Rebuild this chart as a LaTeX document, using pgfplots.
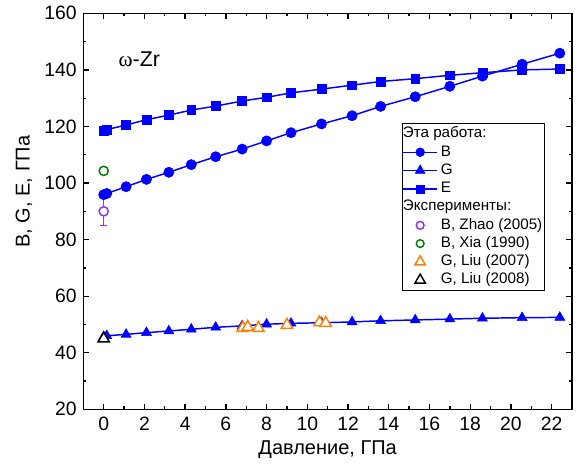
\documentclass[border=0pt]{standalone}
\usepackage{fontspec}
\setmainfont{Liberation Sans}
\newfontfamily\grserif{Liberation Serif}
\usepackage{pgfplots}
\pgfplotsset{compat=1.18}
\definecolor{myblue}{RGB}{0,0,255}
\definecolor{zhao}{RGB}{150,50,240}
\definecolor{xia}{RGB}{0,128,0}
\definecolor{liu}{RGB}{255,128,0}
\begin{document}
\begin{tikzpicture}
\begin{axis}[name=ax,
  width=366.5pt, height=297pt, scale only axis,
  xmin=-1, xmax=23, ymin=20, ymax=160,
  xtick={0,2,...,22}, ytick={20,40,...,160},
  minor x tick num=1, minor y tick num=1,
  tick align=inside, major tick length=4.3pt, minor tick length=2.3pt,
  axis line style={line width=1pt},
  every tick/.style={black, line width=1pt},
  /pgf/number format/assume math mode=true,
  ticklabel style={font=\fontsize{14.5}{17}\selectfont},
  xticklabel style={yshift=-2.5pt},
  yticklabel style={xshift=-1.5pt},
  xlabel={Давление, ГПа}, ylabel={B, G, E, ГПа},
  every axis x label/.style={at={(axis description cs:0.5,0)}, yshift=-30.5pt, anchor=center, font=\fontsize{15}{18}\selectfont},
  every axis y label/.style={at={(axis description cs:0,0.55)}, xshift=-44.5pt, rotate=90, anchor=center, font=\fontsize{15}{18}\selectfont},
  legend image code/.code={\draw[mark repeat=2,mark phase=2,#1] plot coordinates {(0pt,0pt) (12.75pt,0pt) (25.5pt,0pt)};},
  legend cell align=left,
  legend style={at={(0.652,0.723)}, anchor=north west, draw=black, line width=0.75pt,
    inner xsep=0pt, inner ysep=1pt, column sep=0.75pt,
    font=\fontsize{11.4}{13.5}\selectfont,
    nodes={inner xsep=1.5pt, inner ysep=1.5pt, text height=8.2pt, text depth=2.5pt}},
]
\addplot+[forget plot, only marks, mark=*, color=zhao, mark size=3.45pt,
  mark options={line width=1.1pt, draw=zhao, fill=white},
  error bars/.cd, y dir=both, y explicit,
  error bar style={line width=1pt, zhao},
  error mark options={rotate=90, mark size=2.6pt, line width=1pt, zhao}]
  coordinates {(0,90) +- (0,5)};

\addlegendimage{empty legend}
\addlegendentry{\hspace*{-28.5pt}Эта работа:}

\addplot[color=myblue, line width=1.1pt, mark=*, mark size=3.85pt,
  mark options={line width=0.4pt, fill=myblue},
  legend image post style={mark size=3.3pt}] coordinates {
(0,95.9) (0.15,96.3) (1.1,98.7) (2.1,101.3) (3.2,103.8) (4.3,106.5) (5.5,109.3)
(6.8,112.0) (8.0,114.9) (9.2,117.8) (10.7,120.9) (12.2,123.8) (13.6,127.1)
(15.3,130.5) (17.0,134.2) (18.6,137.8) (20.55,142.0) (22.4,145.9)};
\addlegendentry{B}

\addplot[color=myblue, line width=1.1pt, mark=triangle*, mark size=4.3pt,
  mark options={line width=0.4pt, fill=myblue},
  legend image post style={mark size=4.2pt}] coordinates {
(0,45.7) (0.15,46.0) (1.1,46.5) (2.1,47.1) (3.2,47.7) (4.3,48.3) (5.5,49.0)
(6.8,49.5) (8.0,50.1) (9.2,50.4) (10.7,50.6) (12.2,50.9) (13.6,51.3)
(15.3,51.6) (17.0,51.9) (18.6,52.2) (20.55,52.4) (22.4,52.5)};
\addlegendentry{G}

\addplot[color=myblue, line width=1.1pt, mark=square*, mark size=3.3pt,
  mark options={line width=0.4pt, fill=myblue},
  legend image post style={mark size=3.0pt}] coordinates {
(0,118.6) (0.15,118.9) (1.1,120.5) (2.1,122.4) (3.2,124.0) (4.3,125.8) (5.5,127.2)
(6.8,129.0) (8.0,130.3) (9.2,131.9) (10.7,133.2) (12.2,134.6) (13.6,135.9)
(15.3,136.9) (17.0,138.1) (18.6,139.0) (20.55,140.0) (22.4,140.3)};
\addlegendentry{E}

\addlegendimage{empty legend}
\addlegendentry{\hspace*{-28.5pt}Эксперименты:}

\addlegendimage{only marks, mark=*, mark size=2.9pt, mark options={line width=1.1pt, draw=zhao, fill=white}}
\addlegendentry{B, Zhao (2005)}

\addplot[only marks, mark=*, mark size=3.45pt,
  mark options={line width=1.1pt, draw=xia, fill=white},
  legend image post style={mark size=2.9pt}] coordinates {(0,104.3)};
\addlegendentry{B, Xia (1990)}

\addplot[only marks, mark=triangle*, mark size=4.9pt,
  mark options={line width=1.1pt, draw=liu, fill=white},
  legend image post style={mark size=4.5pt}] coordinates {
(6.83,48.7) (7.07,49.1) (7.6,48.7) (9.0,49.8) (10.6,50.7) (10.9,50.5)};
\addlegendentry{G, Liu (2007)}

\addplot[only marks, mark=triangle*, mark size=4.8pt,
  mark options={line width=1.1pt, draw=black, fill=white},
  legend image post style={mark size=4.5pt}] coordinates {(0,45.0)};
\addlegendentry{G, Liu (2008)}

\node[anchor=west, inner sep=0pt, font=\fontsize{16}{19}\selectfont] at (axis cs:0.72,143.8) {{\grserif ω}-Zr};
\end{axis}
\pgfresetboundingbox
\path ([shift={(-62.5pt,-47.8pt)}]ax.south west) rectangle ([shift={(12pt,10pt)}]ax.north east);
\end{tikzpicture}
\end{document}
